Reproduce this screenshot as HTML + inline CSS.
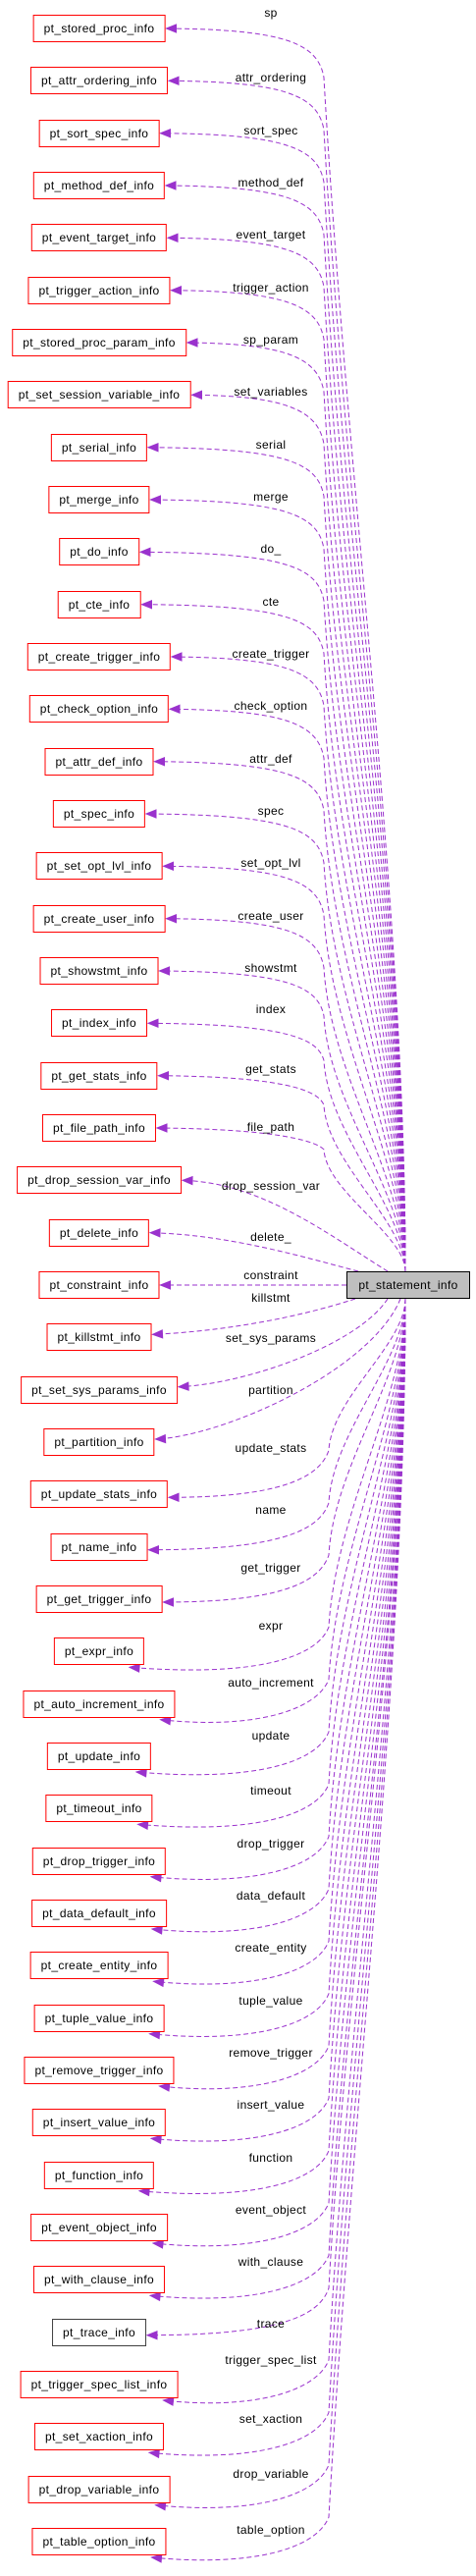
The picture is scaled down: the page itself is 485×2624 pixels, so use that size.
<!DOCTYPE html>
<html><head><meta charset="utf-8"><style>
html,body{margin:0;padding:0;background:#fff;}
body{width:485px;height:2624px;position:relative;overflow:hidden;font-family:"Liberation Sans",Arial,sans-serif;font-size:12px;letter-spacing:0.35px;color:#000;}
.n{position:absolute;height:26px;line-height:26px;border:1px solid #ff0000;background:#fff;padding:0 10px;white-space:nowrap;transform:translateX(-50%);left:101px;z-index:2;}
.n.k{border-color:#404040;}
.m{position:absolute;left:353px;top:1295px;width:124px;height:26px;line-height:26px;border:1px solid #000;background:#bfbfbf;text-align:center;z-index:2;}
.l{position:absolute;left:276px;transform:translateX(-50%);white-space:nowrap;line-height:14px;z-index:1;}
svg{position:absolute;left:0;top:0;z-index:0;}
</style></head><body>
<svg id="g" width="485" height="2624" xmlns="http://www.w3.org/2000/svg"></svg>
<div class="m">pt_statement_info</div>
<div id="nodes">
<div class="n">pt_stored_proc_info</div>
<div class="n">pt_attr_ordering_info</div>
<div class="n">pt_sort_spec_info</div>
<div class="n">pt_method_def_info</div>
<div class="n">pt_event_target_info</div>
<div class="n">pt_trigger_action_info</div>
<div class="n">pt_stored_proc_param_info</div>
<div class="n">pt_set_session_variable_info</div>
<div class="n">pt_serial_info</div>
<div class="n">pt_merge_info</div>
<div class="n">pt_do_info</div>
<div class="n">pt_cte_info</div>
<div class="n">pt_create_trigger_info</div>
<div class="n">pt_check_option_info</div>
<div class="n">pt_attr_def_info</div>
<div class="n">pt_spec_info</div>
<div class="n">pt_set_opt_lvl_info</div>
<div class="n">pt_create_user_info</div>
<div class="n">pt_showstmt_info</div>
<div class="n">pt_index_info</div>
<div class="n">pt_get_stats_info</div>
<div class="n">pt_file_path_info</div>
<div class="n">pt_drop_session_var_info</div>
<div class="n">pt_delete_info</div>
<div class="n">pt_constraint_info</div>
<div class="n">pt_killstmt_info</div>
<div class="n">pt_set_sys_params_info</div>
<div class="n">pt_partition_info</div>
<div class="n">pt_update_stats_info</div>
<div class="n">pt_name_info</div>
<div class="n">pt_get_trigger_info</div>
<div class="n">pt_expr_info</div>
<div class="n">pt_auto_increment_info</div>
<div class="n">pt_update_info</div>
<div class="n">pt_timeout_info</div>
<div class="n">pt_drop_trigger_info</div>
<div class="n">pt_data_default_info</div>
<div class="n">pt_create_entity_info</div>
<div class="n">pt_tuple_value_info</div>
<div class="n">pt_remove_trigger_info</div>
<div class="n">pt_insert_value_info</div>
<div class="n">pt_function_info</div>
<div class="n">pt_event_object_info</div>
<div class="n">pt_with_clause_info</div>
<div class="n k">pt_trace_info</div>
<div class="n">pt_trigger_spec_list_info</div>
<div class="n">pt_set_xaction_info</div>
<div class="n">pt_drop_variable_info</div>
<div class="n">pt_table_option_info</div>
</div>
<div id="labels">
<div class="l">sp</div>
<div class="l">attr_ordering</div>
<div class="l">sort_spec</div>
<div class="l">method_def</div>
<div class="l">event_target</div>
<div class="l">trigger_action</div>
<div class="l">sp_param</div>
<div class="l">set_variables</div>
<div class="l">serial</div>
<div class="l">merge</div>
<div class="l">do_</div>
<div class="l">cte</div>
<div class="l">create_trigger</div>
<div class="l">check_option</div>
<div class="l">attr_def</div>
<div class="l">spec</div>
<div class="l">set_opt_lvl</div>
<div class="l">create_user</div>
<div class="l">showstmt</div>
<div class="l">index</div>
<div class="l">get_stats</div>
<div class="l">file_path</div>
<div class="l">drop_session_var</div>
<div class="l">delete_</div>
<div class="l">constraint</div>
<div class="l">killstmt</div>
<div class="l">set_sys_params</div>
<div class="l">partition</div>
<div class="l">update_stats</div>
<div class="l">name</div>
<div class="l">get_trigger</div>
<div class="l">expr</div>
<div class="l">auto_increment</div>
<div class="l">update</div>
<div class="l">timeout</div>
<div class="l">drop_trigger</div>
<div class="l">data_default</div>
<div class="l">create_entity</div>
<div class="l">tuple_value</div>
<div class="l">remove_trigger</div>
<div class="l">insert_value</div>
<div class="l">function</div>
<div class="l">event_object</div>
<div class="l">with_clause</div>
<div class="l">trace</div>
<div class="l">trigger_spec_list</div>
<div class="l">set_xaction</div>
<div class="l">drop_variable</div>
<div class="l">table_option</div>
</div>
<script>
(function(){
var nodes=document.querySelectorAll('#nodes .n');
var labels=document.querySelectorAll('#labels .l');
var svg=document.getElementById('g');
var C='#9a32cd';
var off={1:-16,20:-14,21:-7,22:-1,23:6,24:4,25:-10,26:-40,27:-53,28:-53,29:-47,30:-38,31:-32,32:-26,33:-22,34:-21,45:-9,46:-25,48:-16,49:-12};
var out='';
function cy(i){return 29+(i-1)*53.333;}
function P(p){return p[0].toFixed(1)+','+p[1].toFixed(1);}
function arrow(c,t){
  var dx=t[0]-c[0],dy=t[1]-c[1],L=Math.sqrt(dx*dx+dy*dy)||1;dx/=L;dy/=L;
  var bx=t[0]-dx*10,by=t[1]-dy*10;
  out+='<polygon points="'+P(t)+' '+P([bx-dy*4,by+dx*4])+' '+P([bx+dy*4,by-dx*4])+'" fill="'+C+'" stroke="'+C+'"/>';
}
function path(d){out+='<path d="'+d+'" fill="none" stroke="'+C+'" stroke-width="1" stroke-dasharray="5,3"/>';}
for(var k=0;k<nodes.length;k++){
  var i=k+1,c=cy(i),n=nodes[k];
  n.style.top=(c-14)+'px';
  var w=n.offsetWidth,bxr=101+w/2;
  var lo=(off[i]!==undefined)?off[i]:(i<=25?-3:-18);
  labels[k].style.top=(c+lo-7)+'px';
  var T,c2,d;
  if(i<=24){
    T=[bxr+1,c];
    var dd=1295-c;
    if(dd<120){
      var sx=(i==24)?365:395;
      c2=[T[0]+80,c+2];
      path('M'+P([sx,1295])+' C'+P([sx-60,1295-dd*0.4])+' '+P(c2)+' '+P(T));
    }else{
      var sx=413;
      var K=[330,c+Math.min(50,dd*0.15)];
      var r=1295-K[1];
      c2=[T[0]+60,c];
      path('M'+P([sx,1295])+' C'+P([sx,1295-r*0.3])+' '+P([K[0]+r*0.02,K[1]+r*0.35])+' '+P(K)+' C'+P([K[0]-6,c+15])+' '+P([290,c+1])+' '+P(T));
    }
    arrow(c2,T);
  }else if(i==25){
    T=[bxr+1,c];c2=[300,c];
    path('M353,1309 L'+P(T));arrow(c2,T);
  }else if(i<=28){
    T=[bxr+1,c-3];
    var sx=(i==26)?362:(i==27?395:408);
    c2=[T[0]+70,c-6];
    path('M'+P([sx,1323])+' C'+P([sx-(i==26?60:30),1323+(c-1323)*0.5])+' '+P(c2)+' '+P(T));
    arrow(c2,T);
  }else{
    var sx=413;
    var right=(i<=31||i==45);
    var K,seg;
    if(right){
      T=[bxr+1,c+3];K=[335,c-45];c2=[280,c+3];
      seg=' C'+P([325,c-15])+' '+P(c2)+' '+P(T);
    }else{
      T=[bxr-15,c+16];K=[335,c-25];c2=[255,c+26];
      seg=' C'+P([322,c+8])+' '+P(c2)+' '+P(T);
    }
    var r=K[1]-1323;
    path('M'+P([sx,1323])+' C'+P([sx,1323+r*0.3])+' '+P([K[0]+r*0.02,K[1]-r*0.35])+' '+P(K)+seg);
    arrow(c2,T);
  }
}
svg.innerHTML=out;
})();
</script>
</body></html>
